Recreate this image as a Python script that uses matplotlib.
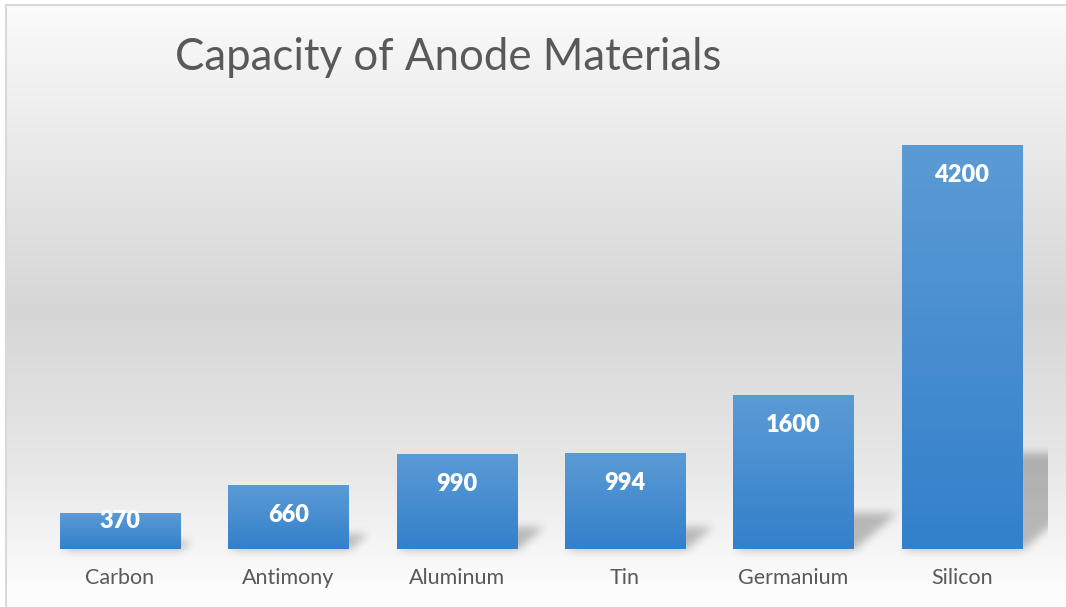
import numpy as np
import matplotlib.pyplot as plt

# data
materials = ['Carbon', 'Antimony', 'Aluminum', 'Tin', 'Germanium', 'Silicon']
capacity = [370, 660, 990, 994, 1600, 4200]
title = 'Capacity of Anode Materials'

W, H = 1066, 607
plt.rcParams['font.family'] = ['Lato', 'DejaVu Sans']

fig = plt.figure(figsize=(W / 100, H / 100), dpi=100)

# background axes covering the whole figure (gradient + shadows)
bg = fig.add_axes([0, 0, 1, 1], zorder=0)
bg.set_xlim(0, W)
bg.set_ylim(H, 0)
bg.axis('off')

rows = np.arange(H, dtype=float)
# white at top, gray in the middle, white again near the labels
shade = np.interp(rows, [5, 40, 310, 470, 585, 607], [252, 246, 214, 232, 252, 253])
grad = np.repeat(shade[:, None], W, axis=1) / 255.0
grad[:5, :] = 1.0
grad[:, :6] = 1.0
bg.imshow(np.dstack([grad] * 3), extent=(0, W, H, 0), aspect='auto', zorder=0)
bg.plot([6, W], [5, 5], color='#d9d9d9', lw=1.5, zorder=1)
bg.plot([6, 6], [5, H], color='#d9d9d9', lw=1.5, zorder=1)

# main plot axes
ax = fig.add_axes([35.8 / W, 58 / H, (1046 - 35.8) / W, (549 - 116) / H], zorder=1)
ax.patch.set_alpha(0)
x = np.arange(len(materials))
width = 0.713
ax.set_xlim(-0.5, len(materials) - 0.5)
ax.set_ylim(0, 4500)

bars = ax.bar(x, capacity, width=width, color='none', edgecolor='none', zorder=2)
cgrad = np.linspace(0, 1, 64)[:, None]
top_c = np.array([0x5b, 0x9b, 0xd5]) / 255
bot_c = np.array([0x33, 0x80, 0xcb]) / 255
bar_img = (top_c[None, None, :] * (1 - cgrad[..., None]) + bot_c[None, None, :] * cgrad[..., None])
for b in bars:
    x0, w, h = b.get_x(), b.get_width(), b.get_height()
    im = ax.imshow(bar_img, extent=(x0, x0 + w, 0, h), aspect='auto', zorder=2)
    im.set_clip_path(b)
ax.set_xlim(-0.5, len(materials) - 0.5)
ax.set_ylim(0, 4500)

for s in ax.spines.values():
    s.set_visible(False)
ax.set_yticks([])
ax.set_xticks(x)
ax.set_xticklabels(materials, fontsize=15.5, color='#595959')
ax.tick_params(axis='x', length=0, pad=14)

# data labels inside the bar tops
px_per_unit = (ax.transData.transform((0, 1000))[1] - ax.transData.transform((0, 0))[1]) / 1000
for xi, v in zip(x, capacity):
    off = min(30, v * px_per_unit - 28)
    ax.annotate(str(v), (xi, v), xytext=(0, -off * 72 / 100), textcoords='offset points',
                ha='center', va='center', color='white', fontsize=17,
                fontweight='heavy', zorder=4)

# soft perspective shadows to the right of each bar
mask = np.zeros((H, W))
for b in bars:
    (px0, py0), (px1, py1) = ax.transData.transform([(b.get_x(), 0), (b.get_x() + b.get_width(), b.get_height())])
    base = H - py0
    hs = 0.24 * (py1 - py0)
    dx = 1.15 * hs
    for r in range(int(base - hs), int(base)):
        t = (base - r) / hs
        l, rr = int(px0 + t * dx), int(px1 + t * dx)
        mask[r, max(l, 0):min(rr, W)] = 1.0


def box_blur(a, k):
    ker = np.ones(k) / k
    a = np.apply_along_axis(lambda m: np.convolve(m, ker, mode='same'), 0, a)
    a = np.apply_along_axis(lambda m: np.convolve(m, ker, mode='same'), 1, a)
    return a


mask = box_blur(box_blur(mask, 10), 10)
right_px = ax.transAxes.transform((1, 0))[0]
mask[:, int(right_px) + 2:] = 0
shadow = np.zeros((H, W, 4))
shadow[..., 3] = 0.24 * mask
bg.imshow(shadow, extent=(0, W, H, 0), aspect='auto', zorder=2)
bg.set_xlim(0, W)
bg.set_ylim(H, 0)

fig.text(175 / W, 1 - 58 / H, title, fontsize=31.5, color='#595959', ha='left', va='center')

fig.savefig('out.png', dpi=100)
